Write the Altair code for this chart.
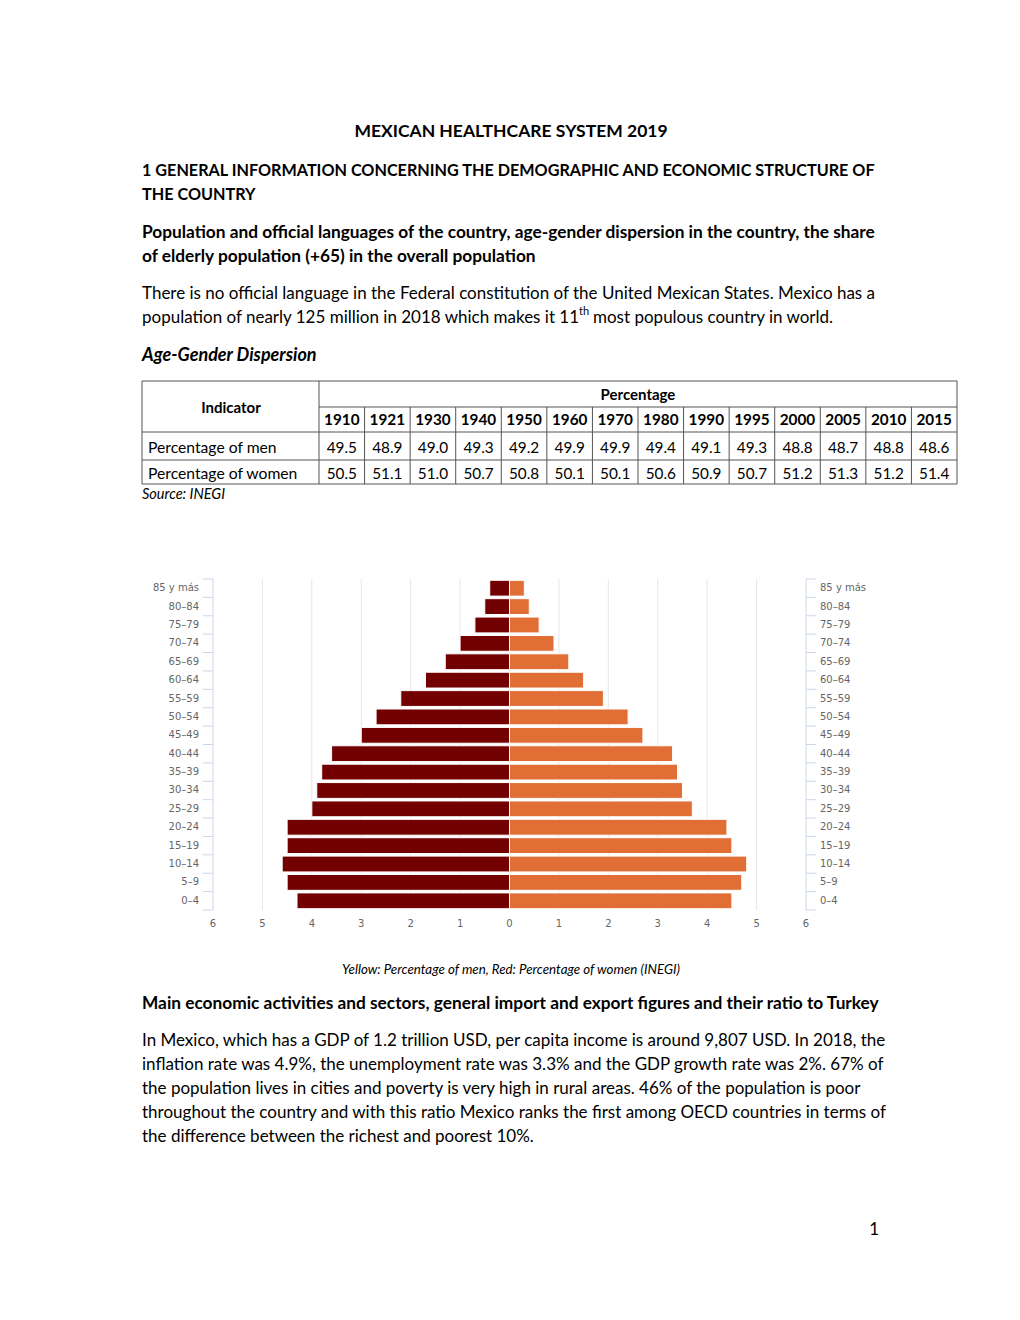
import altair as alt
import pandas as pd

# ---------------- data ----------------
ages = ["85 y más", "80–84", "75–79", "70–74", "65–69", "60–64", "55–59", "50–54", "45–49",
        "40–44", "35–39", "30–34", "25–29", "20–24", "15–19", "10–14", "5–9", "0–4"]
men = [0.4, 0.5, 0.7, 1.0, 1.3, 1.7, 2.2, 2.7, 3.0, 3.6, 3.8, 3.9, 4.0, 4.5, 4.5, 4.6, 4.5, 4.3]
women = [0.3, 0.4, 0.6, 0.9, 1.2, 1.5, 1.9, 2.4, 2.7, 3.3, 3.4, 3.5, 3.7, 4.4, 4.5, 4.8, 4.7, 4.5]
x_ticks = [-6, -5, -4, -3, -2, -1, 0, 1, 2, 3, 4, 5, 6]
x_tick_labels = ["6", "5", "4", "3", "2", "1", "0", "1", "2", "3", "4", "5", "6"]

years = ["1910", "1921", "1930", "1940", "1950", "1960", "1970", "1980", "1990", "1995",
         "2000", "2005", "2010", "2015"]
pct_men = ["49.5", "48.9", "49.0", "49.3", "49.2", "49.9", "49.9", "49.4", "49.1", "49.3",
           "48.8", "48.7", "48.8", "48.6"]
pct_women = ["50.5", "51.1", "51.0", "50.7", "50.8", "50.1", "50.1", "50.6", "50.9", "50.7",
             "51.2", "51.3", "51.2", "51.4"]

FONT = "Lato"
AXFONT = "DejaVu Sans"
MEN_C = "#730000"
WOMEN_C = "#E06E35"
LINE_C = "#555555"
BODY = 17
BOLD = 17.3

pyr = pd.DataFrame({"age": ages, "men": men, "women": women})
ticks = pd.DataFrame({"t": x_ticks, "lab": x_tick_labels})
tbl = pd.DataFrame({"year": years, "men": pct_men, "women": pct_women})
one = pd.DataFrame({"a": [0]})

O = 8  # page margin offset


def P(v):
    return v - O


xs = alt.Scale(domain=[-6, 6], range=[P(213), P(806)])
ys = alt.Scale(domain=ages, range=[P(579), P(910)], paddingInner=0, paddingOuter=0)
ts = alt.Scale(domain=years, range=[P(319), P(957)], paddingInner=0, paddingOuter=0)

layers = []


def txt(s, x, y, size=BODY, weight="normal", style="normal", align="left", color="#000000", font=FONT):
    layers.append(
        alt.Chart(one).mark_text(
            text=s, font=font, fontSize=size, fontWeight=weight, fontStyle=style,
            align=align, baseline="middle", color=color
        ).encode(x=alt.value(P(x)), y=alt.value(P(y)))
    )


def hline(x1, x2, y, color=LINE_C, w=1):
    layers.append(
        alt.Chart(one).mark_rule(color=color, strokeWidth=w).encode(
            x=alt.value(P(x1)), x2=alt.value(P(x2)), y=alt.value(P(y)))
    )


def vline(x, y1, y2, color=LINE_C, w=1):
    layers.append(
        alt.Chart(one).mark_rule(color=color, strokeWidth=w).encode(
            x=alt.value(P(x)), y=alt.value(P(y1)), y2=alt.value(P(y2)))
    )


# ---------------- page text ----------------
txt("MEXICAN HEALTHCARE SYSTEM 2019", 511, 132, size=17.5, weight="bold", align="center")
txt("1 GENERAL INFORMATION CONCERNING THE DEMOGRAPHIC AND ECONOMIC STRUCTURE OF", 142, 171, size=16.2, weight="bold")
txt("THE COUNTRY", 142, 195, size=16.2, weight="bold")
txt("Population and official languages of the country, age-gender dispersion in the country, the share", 142, 233, size=BOLD, weight="bold")
txt("of elderly population (+65) in the overall population", 142, 257, size=BOLD, weight="bold")
txt("There is no official language in the Federal constitution of the United Mexican States. Mexico has a", 142, 294)
txt("population of nearly 125 million in 2018 which makes it 11", 142, 318)
txt("th", 579, 312, size=11)
txt("most populous country in world.", 593, 318)
txt("Age-Gender Dispersion", 142, 356, size=18, weight="bold", style="italic")

# ---------------- table ----------------
hline(142, 957, 381)
hline(142, 957, 484)
vline(142, 381, 484)
vline(957, 381, 484)
vline(319, 381, 484)
hline(319, 957, 407)
hline(142, 957, 432)
hline(142, 957, 460)
txt("Indicator", 231, 408, size=15, weight="bold", align="center")
txt("Percentage", 638, 395, size=15, weight="bold", align="center")
txt("Percentage of men", 148, 448, size=15.7)
txt("Percentage of women", 148, 474, size=15.7)
txt("Source: INEGI", 142, 495, size=14.5, style="italic")

layers.append(
    alt.Chart(tbl).transform_filter(alt.datum.year != years[0]).mark_rule(color=LINE_C).encode(
        x=alt.X("year:N", scale=ts, axis=None, bandPosition=0),
        y=alt.value(P(407)), y2=alt.value(P(484)))
)
for field, yy, wt in [("year", 420, "bold"), ("men", 448, "normal"), ("women", 474, "normal")]:
    layers.append(
        alt.Chart(tbl).mark_text(font=FONT, fontSize=15.3, fontWeight=wt, color="#000000",
                                 align="center", baseline="middle").encode(
            x=alt.X("year:N", scale=ts, axis=None, bandPosition=0.5),
            y=alt.value(P(yy)),
            text=f"{field}:N")
    )

# ---------------- pyramid ----------------
grid = alt.Chart(ticks).transform_filter("abs(datum.t) < 6 && datum.t != 0").mark_rule(
    color="#e6e6e6", strokeWidth=1).encode(
    x=alt.X("t:Q", scale=xs, axis=None), y=alt.value(P(579)), y2=alt.value(P(910)))
axl = alt.Chart(ticks).transform_filter("abs(datum.t) == 6").mark_rule(
    color="#ccd6eb", strokeWidth=1).encode(
    x=alt.X("t:Q", scale=xs, axis=None), y=alt.value(P(579)), y2=alt.value(P(910)))
layers += [grid, axl]

men_bar = alt.Chart(pyr).transform_calculate(neg="-datum.men", zero="0").mark_bar(
    color=MEN_C, stroke="white", strokeWidth=1, height=alt.RelativeBandSize(0.86)).encode(
    y=alt.Y("age:N", scale=ys, axis=None),
    x=alt.X("neg:Q", scale=xs, axis=None), x2="zero:Q")
women_bar = alt.Chart(pyr).transform_calculate(zero="0").mark_bar(
    color=WOMEN_C, stroke="white", strokeWidth=1, height=alt.RelativeBandSize(0.86)).encode(
    y=alt.Y("age:N", scale=ys, axis=None),
    x=alt.X("zero:Q", scale=xs, axis=None), x2="women:Q")
layers += [men_bar, women_bar]

for x1, x2 in [(203, 213), (806, 816)]:
    layers.append(alt.Chart(pyr).mark_rule(color="#ccd6eb").encode(
        y=alt.Y("age:N", scale=ys, axis=None, bandPosition=0),
        x=alt.value(P(x1)), x2=alt.value(P(x2))))
    layers.append(alt.Chart(pyr).transform_filter(alt.datum.age == ages[-1]).mark_rule(color="#ccd6eb").encode(
        y=alt.Y("age:N", scale=ys, axis=None, bandPosition=1),
        x=alt.value(P(x1)), x2=alt.value(P(x2))))

layers.append(alt.Chart(pyr).mark_text(font=AXFONT, fontSize=10, color="#666666", align="right",
                                       baseline="middle").encode(
    y=alt.Y("age:N", scale=ys, axis=None), x=alt.value(P(199)), text="age:N"))
layers.append(alt.Chart(pyr).mark_text(font=AXFONT, fontSize=10, color="#666666", align="left",
                                       baseline="middle").encode(
    y=alt.Y("age:N", scale=ys, axis=None), x=alt.value(P(820)), text="age:N"))
layers.append(alt.Chart(ticks).mark_text(font=AXFONT, fontSize=10, color="#666666", align="center",
                                         baseline="middle").encode(
    x=alt.X("t:Q", scale=xs, axis=None), y=alt.value(P(924)), text="lab:N"))

txt("Yellow: Percentage of men, Red: Percentage of women (INEGI)", 511, 970, size=13.3, style="italic", align="center")

# ---------------- lower text ----------------
txt("Main economic activities and sectors, general import and export figures and their ratio to Turkey", 142, 1004, size=BOLD, weight="bold")
para = [
    "In Mexico, which has a GDP of 1.2 trillion USD, per capita income is around 9,807 USD. In 2018, the",
    "inflation rate was 4.9%, the unemployment rate was 3.3% and the GDP growth rate was 2%. 67% of",
    "the population lives in cities and poverty is very high in rural areas. 46% of the population is poor",
    "throughout the country and with this ratio Mexico ranks the first among OECD countries in terms of",
    "the difference between the richest and poorest 10%.",
]
for i, line in enumerate(para):
    txt(line, 142, 1041 + 24 * i)
txt("1", 879, 1230, align="right")

chart = alt.layer(*layers).resolve_scale(x="independent", y="independent").properties(
    width=1004, height=1304, padding=0, autosize=alt.AutoSizeParams(type="none")
).configure(background="white").configure_view(stroke=None, strokeWidth=0)

chart.save("out.html", embed_options={"renderer": "svg", "actions": False})
